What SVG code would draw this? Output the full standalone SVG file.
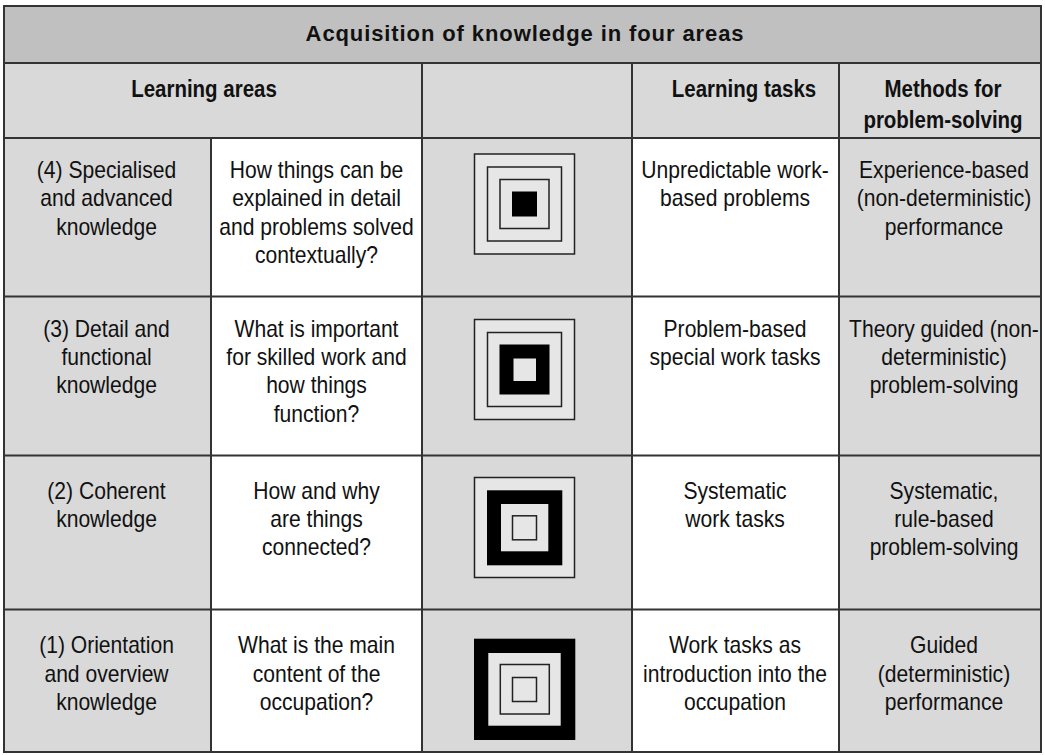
<svg xmlns="http://www.w3.org/2000/svg" width="1045" height="755" viewBox="0 0 1045 755">
<style>
.t{font-family:"Liberation Sans",Arial,sans-serif;font-size:23px;fill:#111;text-anchor:middle}
.h{font-family:"Liberation Sans",Arial,sans-serif;font-size:23px;font-weight:bold;fill:#111;text-anchor:middle}
.title{font-family:"Liberation Sans",Arial,sans-serif;font-size:22px;font-weight:bold;fill:#111;text-anchor:middle;letter-spacing:0.9px}
.g{fill:#d9d9d9}
.w{fill:#ffffff}
.ln{stroke:#333;stroke-width:2;fill:none}
.sq{fill:#e6e6e6;stroke:#222;stroke-width:1.5}
.bk{fill:#000}
.li{fill:#e6e6e6}
</style>
<rect x="0" y="0" width="1045" height="755" fill="#fff"/>
<g id="backgrounds">
<rect x="4" y="6" width="1037" height="57" fill="#c0c0c0"/>
<rect x="4" y="63" width="1037" height="75" class="g"/>
<rect x="4" y="138" width="207" height="614" class="g"/>
<rect x="211" y="138" width="211" height="614" class="w"/>
<rect x="422" y="138" width="210" height="614" class="g"/>
<rect x="632" y="138" width="207" height="614" class="w"/>
<rect x="839" y="138" width="202" height="614" class="g"/>
</g>
<g id="grid">
<rect x="4" y="6" width="1037" height="746" class="ln"/>
<path class="ln" d="M4 63H1041M4 138H1041M4 296.5H1041M4 455.5H1041M4 609.5H1041M211 138V752M422 63V752M632 63V752M839 63V752"/>
</g>
<g id="title"><text class="title" x="525" y="40.5">Acquisition of knowledge in four areas</text></g>
<g id="header">
<g transform="translate(204,0) scale(0.89,1)"><text class="h" x="0" y="97.5">Learning areas</text></g>
<g transform="translate(744,0) scale(0.89,1)"><text class="h" x="0" y="97.5">Learning tasks</text></g>
<g transform="translate(943,0) scale(0.89,1)"><text class="h" x="0" y="97.3">Methods for</text><text class="h" x="0" y="128">problem-solving</text></g>
</g>
<g id="row4">
<g id="area4" transform="translate(106.5,0) scale(0.917,1)"><text class="t" x="0" y="178">(4) Specialised</text><text class="t" x="0" y="206.3">and advanced</text><text class="t" x="0" y="234.6">knowledge</text></g>
<g id="question4" transform="translate(316.5,0) scale(0.917,1)"><text class="t" x="0" y="178">How things can be</text><text class="t" x="0" y="206.3">explained in detail</text><text class="t" x="0" y="234.6">and problems solved</text><text class="t" x="0" y="262.9">contextually?</text></g>
<g id="icon4">
<rect class="sq" x="474.5" y="154" width="100" height="100"/>
<rect class="sq" x="487.5" y="167" width="74" height="74"/>
<rect class="sq" x="500" y="179.5" width="49" height="49"/>
<rect class="bk" x="512" y="191.5" width="25" height="25"/>
</g>
<g id="task4" transform="translate(735,0) scale(0.917,1)"><text class="t" x="0" y="178">Unpredictable work-</text><text class="t" x="0" y="206.3">based problems</text></g>
<g id="method4" transform="translate(944,0) scale(0.917,1)"><text class="t" x="0" y="178">Experience-based</text><text class="t" x="0" y="206.3">(non-deterministic)</text><text class="t" x="0" y="234.6">performance</text></g>
</g>
<g id="row3">
<g id="area3" transform="translate(106.5,0) scale(0.917,1)"><text class="t" x="0" y="336.7">(3) Detail and</text><text class="t" x="0" y="365">functional</text><text class="t" x="0" y="393.3">knowledge</text></g>
<g id="question3" transform="translate(316.5,0) scale(0.917,1)"><text class="t" x="0" y="336.7">What is important</text><text class="t" x="0" y="365">for skilled work and</text><text class="t" x="0" y="393.3">how things</text><text class="t" x="0" y="421.6">function?</text></g>
<g id="icon3">
<rect class="sq" x="474.5" y="319.5" width="100" height="100"/>
<rect class="sq" x="487.5" y="332.5" width="74" height="74"/>
<rect class="bk" x="499.5" y="344.5" width="50" height="50"/>
<rect class="li" x="513.5" y="358.5" width="22.5" height="22.5"/>
</g>
<g id="task3" transform="translate(735,0) scale(0.917,1)"><text class="t" x="0" y="336.7">Problem-based</text><text class="t" x="0" y="365">special work tasks</text></g>
<g id="method3" transform="translate(944,0) scale(0.917,1)"><text class="t" x="0" y="336.7">Theory guided (non-</text><text class="t" x="0" y="365">deterministic)</text><text class="t" x="0" y="393.3">problem-solving</text></g>
</g>
<g id="row2">
<g id="area2" transform="translate(106.5,0) scale(0.917,1)"><text class="t" x="0" y="498.7">(2) Coherent</text><text class="t" x="0" y="527">knowledge</text></g>
<g id="question2" transform="translate(316.5,0) scale(0.917,1)"><text class="t" x="0" y="498.7">How and why</text><text class="t" x="0" y="527">are things</text><text class="t" x="0" y="555.3">connected?</text></g>
<g id="icon2">
<rect class="sq" x="474.5" y="477.5" width="100" height="100"/>
<rect class="bk" x="487" y="490.3" width="75.3" height="75"/>
<rect class="li" x="501" y="504" width="47.3" height="47.3"/>
<rect class="sq" x="512.5" y="515.8" width="24" height="24"/>
</g>
<g id="task2" transform="translate(735,0) scale(0.917,1)"><text class="t" x="0" y="498.7">Systematic</text><text class="t" x="0" y="527">work tasks</text></g>
<g id="method2" transform="translate(944,0) scale(0.917,1)"><text class="t" x="0" y="498.7">Systematic,</text><text class="t" x="0" y="527">rule-based</text><text class="t" x="0" y="555.3">problem-solving</text></g>
</g>
<g id="row1">
<g id="area1" transform="translate(106.5,0) scale(0.917,1)"><text class="t" x="0" y="653.3">(1) Orientation</text><text class="t" x="0" y="681.6">and overview</text><text class="t" x="0" y="709.9">knowledge</text></g>
<g id="question1" transform="translate(316.5,0) scale(0.917,1)"><text class="t" x="0" y="653.3">What is the main</text><text class="t" x="0" y="681.6">content of the</text><text class="t" x="0" y="709.9">occupation?</text></g>
<g id="icon1">
<rect class="bk" x="474" y="638.7" width="101.3" height="101.3"/>
<rect class="li" x="488.3" y="653" width="72.4" height="72.7"/>
<rect class="sq" x="500.3" y="664.5" width="49" height="49.5"/>
<rect class="sq" x="512.5" y="677.5" width="24" height="24"/>
</g>
<g id="task1" transform="translate(735,0) scale(0.917,1)"><text class="t" x="0" y="653.3">Work tasks as</text><text class="t" x="0" y="681.6">introduction into the</text><text class="t" x="0" y="709.9">occupation</text></g>
<g id="method1" transform="translate(944,0) scale(0.917,1)"><text class="t" x="0" y="653.3">Guided</text><text class="t" x="0" y="681.6">(deterministic)</text><text class="t" x="0" y="709.9">performance</text></g>
</g>
</svg>
